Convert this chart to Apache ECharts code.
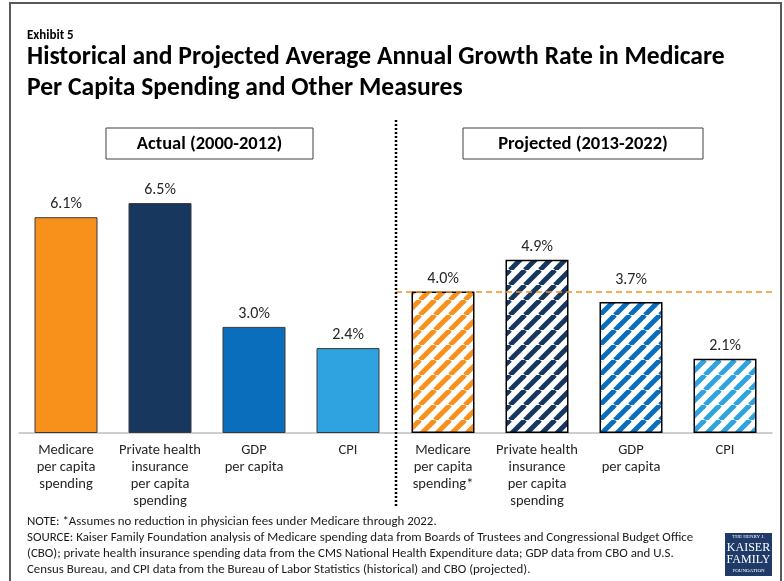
<!DOCTYPE html>
<html>
<head>
<meta charset="utf-8">
<script src="https://cdn.jsdelivr.net/npm/echarts@6/dist/echarts.min.js"></script>
<style>
  html, body { margin: 0; padding: 0; background: #fff; }
  #chart { width: 784px; height: 581px; }
</style>
</head>
<body>
<div id="chart"></div>
<script>
// Growth-rate data (average annual %, per capita)
const actualCategories = ['Medicare\nper capita\nspending', 'Private health\ninsurance\nper capita\nspending', 'GDP\nper capita', 'CPI'];
const projectedCategories = ['Medicare\nper capita\nspending*', 'Private health\ninsurance\nper capita\nspending', 'GDP\nper capita', 'CPI'];
const actualValues = [6.1, 6.5, 3.0, 2.4];
const projectedValues = [4.0, 4.9, 3.7, 2.1];
const medicareProjectedRef = 4.0;

const titleLines = ['Historical and Projected Average Annual Growth Rate in Medicare', 'Per Capita Spending and Other Measures'];
const noteLines = [
  'NOTE: *Assumes no reduction in physician fees under Medicare through 2022.',
  'SOURCE: Kaiser Family Foundation analysis of Medicare spending data from Boards of Trustees and Congressional Budget Office',
  '(CBO); private health insurance spending data from the CMS National Health Expenditure data; GDP data from CBO and U.S.',
  'Census Bureau, and CPI data from the Bureau of Labor Statistics (historical) and CBO (projected).'
];

const barColors = ['#F8901C', '#17375E', '#0A6EBD', '#2FA3E0'];
const FONT = 'Carlito, Lato, "Liberation Sans", sans-serif';

// Diagonal stripe tile used for the projected bars
function stripes(color) {
  const p = 15;
  const c = document.createElement('canvas');
  c.width = p; c.height = p;
  const ctx = c.getContext('2d');
  ctx.fillStyle = '#fff';
  ctx.fillRect(0, 0, p, p);
  ctx.strokeStyle = color;
  ctx.lineWidth = 5;
  for (let i = -1; i <= 1; i++) {
    ctx.beginPath();
    ctx.moveTo(i * p, p);
    ctx.lineTo(i * p + p, 0);
    ctx.stroke();
  }
  return c;
}

const chart = echarts.init(document.getElementById('chart'), null, { renderer: 'canvas' });

const axisLabelStyle = { fontFamily: FONT, fontSize: 14.5, color: '#262626', lineHeight: 17, margin: 9, interval: 0 };
const valueLabel = { show: true, position: 'top', distance: 5, fontFamily: FONT, fontSize: 16, color: '#262626', formatter: p => p.value.toFixed(1) + '%' };

const graphics = [
  // outer frame
  { type: 'rect', shape: { x: 10, y: 3, width: 771, height: 600 }, style: { fill: 'none', stroke: '#595959', lineWidth: 2 }, silent: true },
  { type: 'text', x: 27, y: 36, style: { text: 'Exhibit 5', font: 'bold 13px ' + FONT, fill: '#000', verticalAlign: 'middle' } },
  { type: 'text', x: 27, y: 58, style: { text: titleLines[0], font: 'bold 25.6px ' + FONT, fill: '#000', verticalAlign: 'middle' } },
  { type: 'text', x: 27, y: 89, style: { text: titleLines[1], font: 'bold 25.6px ' + FONT, fill: '#000', verticalAlign: 'middle' } },
  // section headers
  { type: 'rect', shape: { x: 106, y: 128, width: 207, height: 31 }, style: { fill: '#fff', stroke: '#404040', lineWidth: 1 } },
  { type: 'text', x: 209.5, y: 144, style: { text: 'Actual (2000-2012)', font: 'bold 18.5px ' + FONT, fill: '#000', align: 'center', verticalAlign: 'middle' } },
  { type: 'rect', shape: { x: 463, y: 128, width: 240, height: 31 }, style: { fill: '#fff', stroke: '#404040', lineWidth: 1 } },
  { type: 'text', x: 583, y: 144, style: { text: 'Projected (2013-2022)', font: 'bold 18.5px ' + FONT, fill: '#000', align: 'center', verticalAlign: 'middle' } },
  // divider between actual and projected
  { type: 'line', shape: { x1: 396, y1: 120, x2: 396, y2: 506 }, style: { stroke: '#000', lineWidth: 2.5, lineDash: [2, 2] }, z: 10 },
  // logo
  { type: 'rect', shape: { x: 725, y: 533, width: 47, height: 43 }, style: { fill: '#1F3A68' } },
  { type: 'text', x: 748.5, y: 537, style: { text: 'THE HENRY J.', font: '5px "Liberation Serif", serif', fill: '#fff', align: 'center', verticalAlign: 'middle' } },
  { type: 'text', x: 748.5, y: 547.5, style: { text: 'KAISER', font: '12px "Liberation Serif", serif', fill: '#fff', align: 'center', verticalAlign: 'middle' } },
  { type: 'text', x: 748.5, y: 560, style: { text: 'FAMILY', font: '12px "Liberation Serif", serif', fill: '#fff', align: 'center', verticalAlign: 'middle' } },
  { type: 'text', x: 748.5, y: 571, style: { text: 'FOUNDATION', font: '5px "Liberation Serif", serif', fill: '#fff', align: 'center', verticalAlign: 'middle' } }
];
noteLines.forEach((t, i) => {
  graphics.push({ type: 'text', x: 27, y: 522 + i * 16, style: { text: t, font: '12.9px ' + FONT, fill: '#1a1a1a', verticalAlign: 'middle' } });
});

const option = {
  animation: false,
  backgroundColor: '#fff',
  grid: [
    { left: 19, width: 376, top: 150, height: 283 },
    { left: 396, width: 376, top: 150, height: 283 }
  ],
  xAxis: [
    { type: 'category', gridIndex: 0, data: actualCategories, axisTick: { show: false },
      axisLine: { lineStyle: { color: '#BFBFBF', width: 1.5 } }, axisLabel: axisLabelStyle },
    { type: 'category', gridIndex: 1, data: projectedCategories, axisTick: { show: false },
      axisLine: { lineStyle: { color: '#BFBFBF', width: 1.5 } }, axisLabel: axisLabelStyle }
  ],
  yAxis: [
    { type: 'value', gridIndex: 0, min: 0, max: 8, show: false, splitLine: { show: false } },
    { type: 'value', gridIndex: 1, min: 0, max: 8, show: false, splitLine: { show: false } }
  ],
  series: [
    {
      type: 'bar', xAxisIndex: 0, yAxisIndex: 0, barWidth: 63,
      data: actualValues.map((v, i) => ({ value: v, itemStyle: { color: barColors[i] } })),
      itemStyle: { borderColor: '#3a3a3a', borderWidth: 1 },
      label: valueLabel
    },
    {
      type: 'bar', xAxisIndex: 1, yAxisIndex: 1, barWidth: 63,
      data: projectedValues.map((v, i) => ({
        value: v,
        itemStyle: { color: { image: stripes(barColors[i]), repeat: 'repeat' } },
        // the GDP label sits above the Medicare reference line
        label: i === 2 ? { distance: 14 } : undefined
      })),
      itemStyle: { borderColor: '#000', borderWidth: 1.5 },
      label: valueLabel,
      markLine: {
        silent: true, symbol: 'none', label: { show: false },
        lineStyle: { color: '#F7901E', type: [6, 4], width: 1.5 },
        data: [{ yAxis: medicareProjectedRef }],
        z: 5
      }
    }
  ],
  graphic: graphics
};
chart.setOption(option);
</script>
</body>
</html>
